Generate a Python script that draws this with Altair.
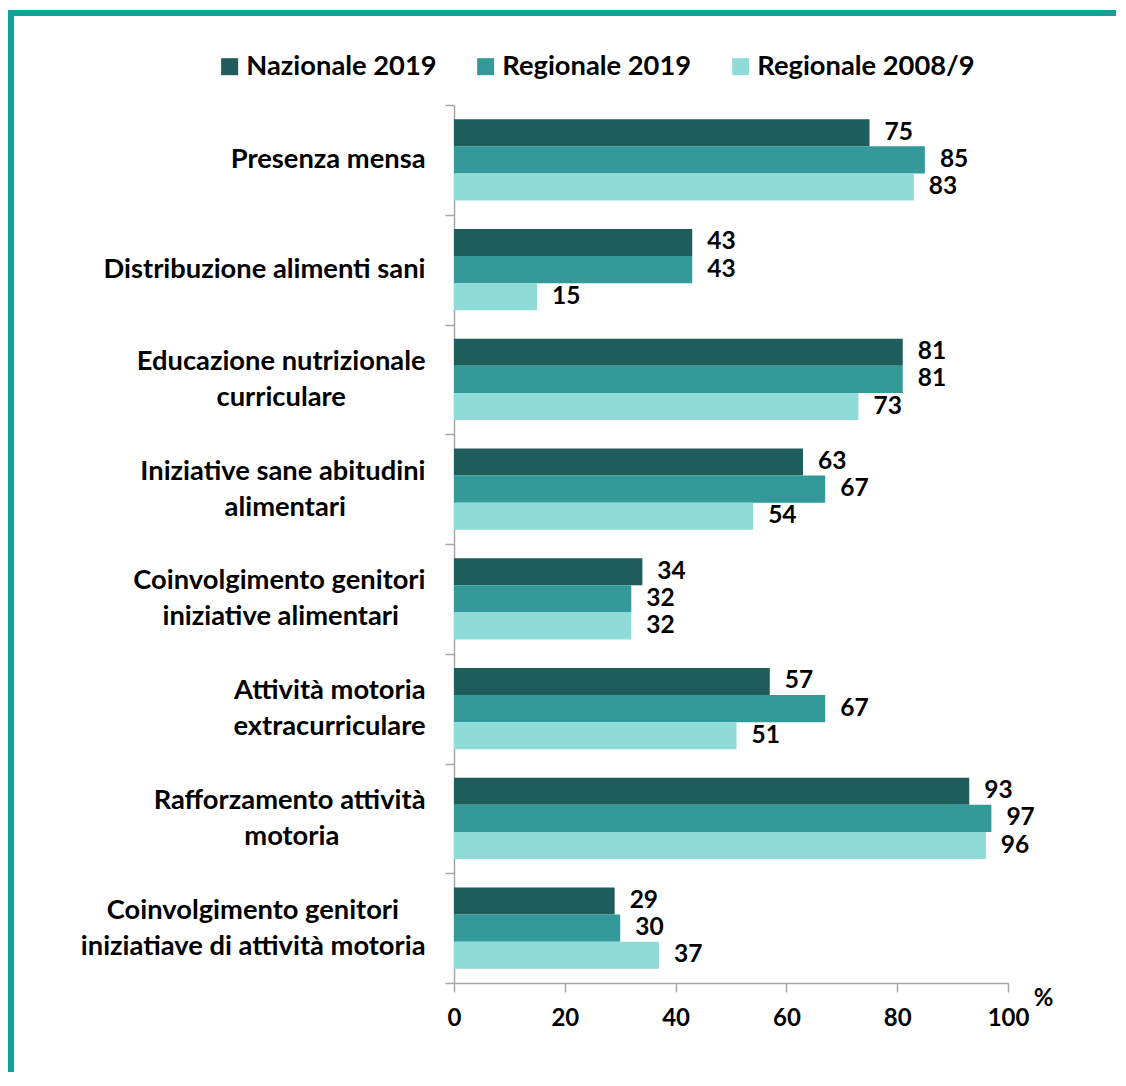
import altair as alt
import pandas as pd

# ---- data ----
label_lines = [
    ["Presenza mensa"],
    ["Distribuzione alimenti sani"],
    ["Educazione nutrizionale", "curriculare"],
    ["Iniziative sane abitudini", "alimentari"],
    ["Coinvolgimento genitori", "iniziative alimentari"],
    ["Attività motoria", "extracurriculare"],
    ["Rafforzamento attività", "motoria"],
    ["Coinvolgimento genitori", "iniziatiave di attività motoria"],
]
series = ["Nazionale 2019", "Regionale 2019", "Regionale 2008/9"]
nazionale_2019 = [75, 43, 81, 63, 34, 57, 93, 29]
regionale_2019 = [85, 43, 81, 67, 32, 67, 97, 30]
regionale_2008_9 = [83, 15, 73, 54, 32, 51, 96, 37]
x_ticks = [0, 20, 40, 60, 80, 100]

# ---- style ----
colors = ["#1F5C5C", "#339A99", "#8FDBD9"]
border_color = "#12A09A"
axis_color = "#A6A6A6"
FONT = "Lato"
LABEL_SIZE = 27.3
HALF_LINE = 18
TICK = 9
# trailing blanks so that the lines of a right-aligned label look centred
line_pad = [[0], [0], [0, 12], [0, 12], [0, 4], [0, 0], [0, 13], [4, 0]]
NBSP, ZWSP = "\u00a0", "\u200b"


def padded(line, n):
    return line + NBSP * n + ZWSP if n else line


# labels are laid out on a half-line grid: single lines sit in the middle slot,
# two-line labels use the slots above and below it
categories = []
for lines, pads in zip(label_lines, line_pad):
    p = [padded(l, n) for l, n in zip(lines, pads)]
    categories.append("|" + p[0] if len(p) == 1 else p[0] + "|" + ZWSP + "|" + p[1])

rows = []
for s, vals in zip(series, [nazionale_2019, regionale_2019, regionale_2008_9]):
    for c, v in zip(categories, vals):
        rows.append({"cat": c, "series": s, "value": v})
df = pd.DataFrame(rows)

W, H = 554, 878
PAD = {"left": 446, "top": 97, "right": 108, "bottom": 89}

y_enc = alt.Y(
    "cat:N",
    sort=categories,
    scale=alt.Scale(paddingInner=0, paddingOuter=0),
    axis=alt.Axis(
        title=None,
        labelExpr="split(datum.label, '|')",
        labelLineHeight=HALF_LINE,
        labelOffset=-HALF_LINE,
        labelFontSize=LABEL_SIZE,
        labelFont=FONT,
        labelFontWeight="bold",
        labelColor="black",
        labelPadding=20,
        labelLimit=600,
        tickBand="extent",
        tickSize=TICK,
        tickColor=axis_color,
        domainColor=axis_color,
        domainWidth=1.5,
        tickWidth=1.5,
    ),
)
x_enc = alt.X(
    "value:Q",
    scale=alt.Scale(domain=[0, 100], nice=False),
    axis=alt.Axis(
        values=x_ticks,
        title="%",
        titleFont=FONT,
        titleFontSize=24,
        titleFontWeight="bold",
        titleColor="black",
        titleX=589,
        titleY=15,
        titleAlign="center",
        titleBaseline="middle",
        titleAngle=0,
        labelFont=FONT,
        labelFontSize=24,
        labelFontWeight="bold",
        labelColor="black",
        labelPadding=14,
        tickSize=TICK,
        tickColor=axis_color,
        domainColor=axis_color,
        domainWidth=1.5,
        tickWidth=1.5,
        grid=False,
        labelFlush=False,
    ),
)
yoff = alt.YOffset("series:N", sort=series, scale=alt.Scale(paddingInner=0, paddingOuter=0.52))

bars = alt.Chart(df).mark_bar().encode(
    y=y_enc,
    x=x_enc,
    yOffset=yoff,
    color=alt.Color(
        "series:N",
        sort=series,
        scale=alt.Scale(domain=series, range=colors),
        legend=alt.Legend(
            title=None,
            orient="none",
            direction="horizontal",
            legendX=-238,
            legendY=-52,
            symbolType="square",
            symbolSize=289,
            symbolStrokeWidth=0,
            symbolOpacity=1,
            labelFont=FONT,
            labelFontSize=LABEL_SIZE,
            labelFontWeight="bold",
            labelColor="black",
            labelOffset=3,
            columnPadding=35,
            padding=0,
            labelLimit=600,
        ),
    ),
)

labels = alt.Chart(df).mark_text(
    align="left", baseline="middle", dx=15, font=FONT, fontSize=24.5, fontWeight="bold", color="black"
).encode(
    y=alt.Y("cat:N", sort=categories),
    x=alt.X("value:Q"),
    yOffset=alt.YOffset("series:N", sort=series),
    text=alt.Text("value:Q"),
)

one = pd.DataFrame({"a": [0]})
border_top = alt.Chart(one).mark_rule(color=border_color, strokeWidth=6).encode(
    x=alt.value(-PAD["left"]), x2=alt.value(W + PAD["right"]), y=alt.value(-92)
)
border_left = alt.Chart(one).mark_rule(color=border_color, strokeWidth=6).encode(
    x=alt.value(-PAD["left"] + 3), y=alt.value(-95), y2=alt.value(H + PAD["bottom"])
)

chart = alt.layer(bars, labels, border_top, border_left).properties(
    width=W,
    height=H,
    autosize=alt.AutoSizeParams(type="none"),
    padding=PAD,
).configure(font=FONT).configure_view(stroke=None)

chart.save("out.html", embed_options={"renderer": "svg", "actions": False})
